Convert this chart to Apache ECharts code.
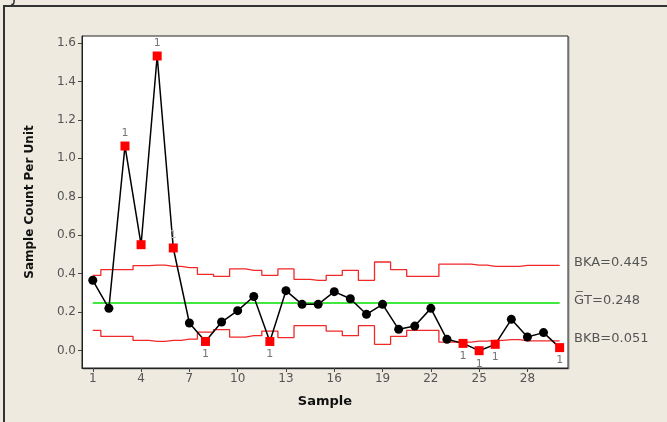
<!DOCTYPE html>
<html><head><meta charset="utf-8">
<script src="https://cdn.jsdelivr.net/npm/echarts@6/dist/echarts.min.js"></script>
<style>html,body{margin:0;padding:0;background:#EEEAE0;}#c{width:667px;height:422px;}</style>
</head><body><div id="c"></div>
<script>
const samples = [1,2,3,4,5,6,7,8,9,10,11,12,13,14,15,16,17,18,19,20,21,22,23,24,25,26,27,28,29,30];
const values = [0.366,0.220,1.064,0.551,1.532,0.534,0.144,0.048,0.149,0.208,0.282,0.048,0.312,0.241,0.241,0.307,0.270,0.189,0.241,0.111,0.128,0.220,0.059,0.038,0.000,0.033,0.163,0.071,0.094,0.016];
const ucl = [0.392,0.421,0.421,0.442,0.445,0.438,0.432,0.397,0.386,0.425,0.418,0.392,0.425,0.371,0.366,0.392,0.418,0.366,0.461,0.421,0.386,0.386,0.450,0.450,0.445,0.438,0.438,0.444,0.444,0.444];
const lcl = [0.106,0.074,0.074,0.054,0.048,0.054,0.060,0.097,0.109,0.071,0.078,0.102,0.068,0.130,0.130,0.102,0.078,0.130,0.033,0.074,0.106,0.106,0.045,0.045,0.050,0.054,0.057,0.051,0.051,0.051];
const center = 0.248;
const outAbove = [3,5,6];
const outBelow = [8,12,24,25,26,30];
const outNoLabel = [4];
const xTicks = [1,4,7,10,13,16,19,22,25,28];
const yTicks = [0,0.2,0.4,0.6,0.8,1.0,1.2,1.4,1.6];
const limitLabels = ['BKA=0.445','G\u0305T=0.248','BKB=0.051'];
const limitValues = [0.445,0.248,0.051];

const chart = echarts.init(document.getElementById('c'));
const mainData = samples.map((s,i)=>{
  const d = {value:[s, values[i]]};
  const above = outAbove.includes(s), below = outBelow.includes(s), nol = outNoLabel.includes(s);
  if (above||below||nol){
    d.symbol='rect'; d.symbolSize=9; d.itemStyle={color:'#ff0000'};
    if (above||below) d.label={show:true, position: above?'top':'bottom', distance: 3, formatter:'1',
      color: s===6 ? '#bbbbbb' : '#777777', fontSize:11, fontFamily:'DejaVu Sans'};
  }
  return d;
});
const plotLeft=82, plotTop=36, plotW=486, plotH=332;
const yMin=-0.09, yMax=1.636;
function yPix(v){ return plotTop + (yMax - v)/(yMax-yMin)*plotH; }
const graphics = [
  {type:'rect', shape:{x:4,y:6,width:700,height:450}, style:{fill:'#EEEAE0', stroke:'#333', lineWidth:2}, z:-10, silent:true},
  {type:'text', left:12, top:-9, style:{text:'J', font:'14px DejaVu Sans', fill:'#222'}},
  {type:'rect', shape:{x:plotLeft+1,y:plotTop+1,width:plotW,height:plotH}, style:{fill:'none', stroke:'#999', lineWidth:1}, z:-5, silent:true}
];
limitLabels.forEach((t,i)=>{
  graphics.push({type:'text', left:574, top: yPix(limitValues[i]) - 9, style:{text:t, font:'13px DejaVu Sans', fill:'#555'}});
});
chart.setOption({
  backgroundColor:'#EEEAE0',
  animation:false,
  grid:{left:plotLeft, top:plotTop, width:plotW, height:plotH, show:true, backgroundColor:'#fff', borderColor:'#222', borderWidth:1},
  xAxis:{type:'value', min:0.33, max:30.52,
    name:'Sample', nameLocation:'middle', nameGap:27, nameTextStyle:{fontWeight:'bold', fontSize:13, color:'#111', fontFamily:'DejaVu Sans'},
    axisLine:{show:true, onZero:false, lineStyle:{color:'#222'}}, splitLine:{show:false},
    axisTick:{show:true, length:4, inside:false, lineStyle:{color:'#444'}, customValues:xTicks},
    axisLabel:{color:'#555', fontSize:12, fontFamily:'DejaVu Sans', margin:5, customValues:xTicks}
  },
  yAxis:{type:'value', min:yMin, max:yMax,
    name:'Sample Count Per Unit', nameLocation:'middle', nameGap:46, nameRotate:90, nameTextStyle:{fontWeight:'bold', fontSize:12, color:'#111', fontFamily:'DejaVu Sans'},
    axisLine:{show:true, onZero:false, lineStyle:{color:'#222'}}, splitLine:{show:false},
    axisTick:{show:true, length:4, lineStyle:{color:'#444'}, customValues:yTicks},
    axisLabel:{color:'#555', fontSize:12, fontFamily:'DejaVu Sans', margin:6, customValues:yTicks, formatter:v=>v.toFixed(1)}
  },
  series:[
    {type:'line', data:samples.map((s,i)=>[s,ucl[i]]), step:'middle', showSymbol:false, lineStyle:{color:'#f02828', width:1.3}, z:1},
    {type:'line', data:samples.map((s,i)=>[s,lcl[i]]), step:'middle', showSymbol:false, lineStyle:{color:'#f02828', width:1.3}, z:1},
    {type:'line', data:[[samples[0],center],[samples[samples.length-1],center]], showSymbol:false, lineStyle:{color:'#00e000', width:1.3}, z:1},
    {type:'line', data:mainData, symbol:'circle', symbolSize:9, showAllSymbol:true, itemStyle:{color:'#000'}, lineStyle:{color:'#000', width:1.5}, z:3}
  ],
  graphic:graphics
});
</script></body></html>
